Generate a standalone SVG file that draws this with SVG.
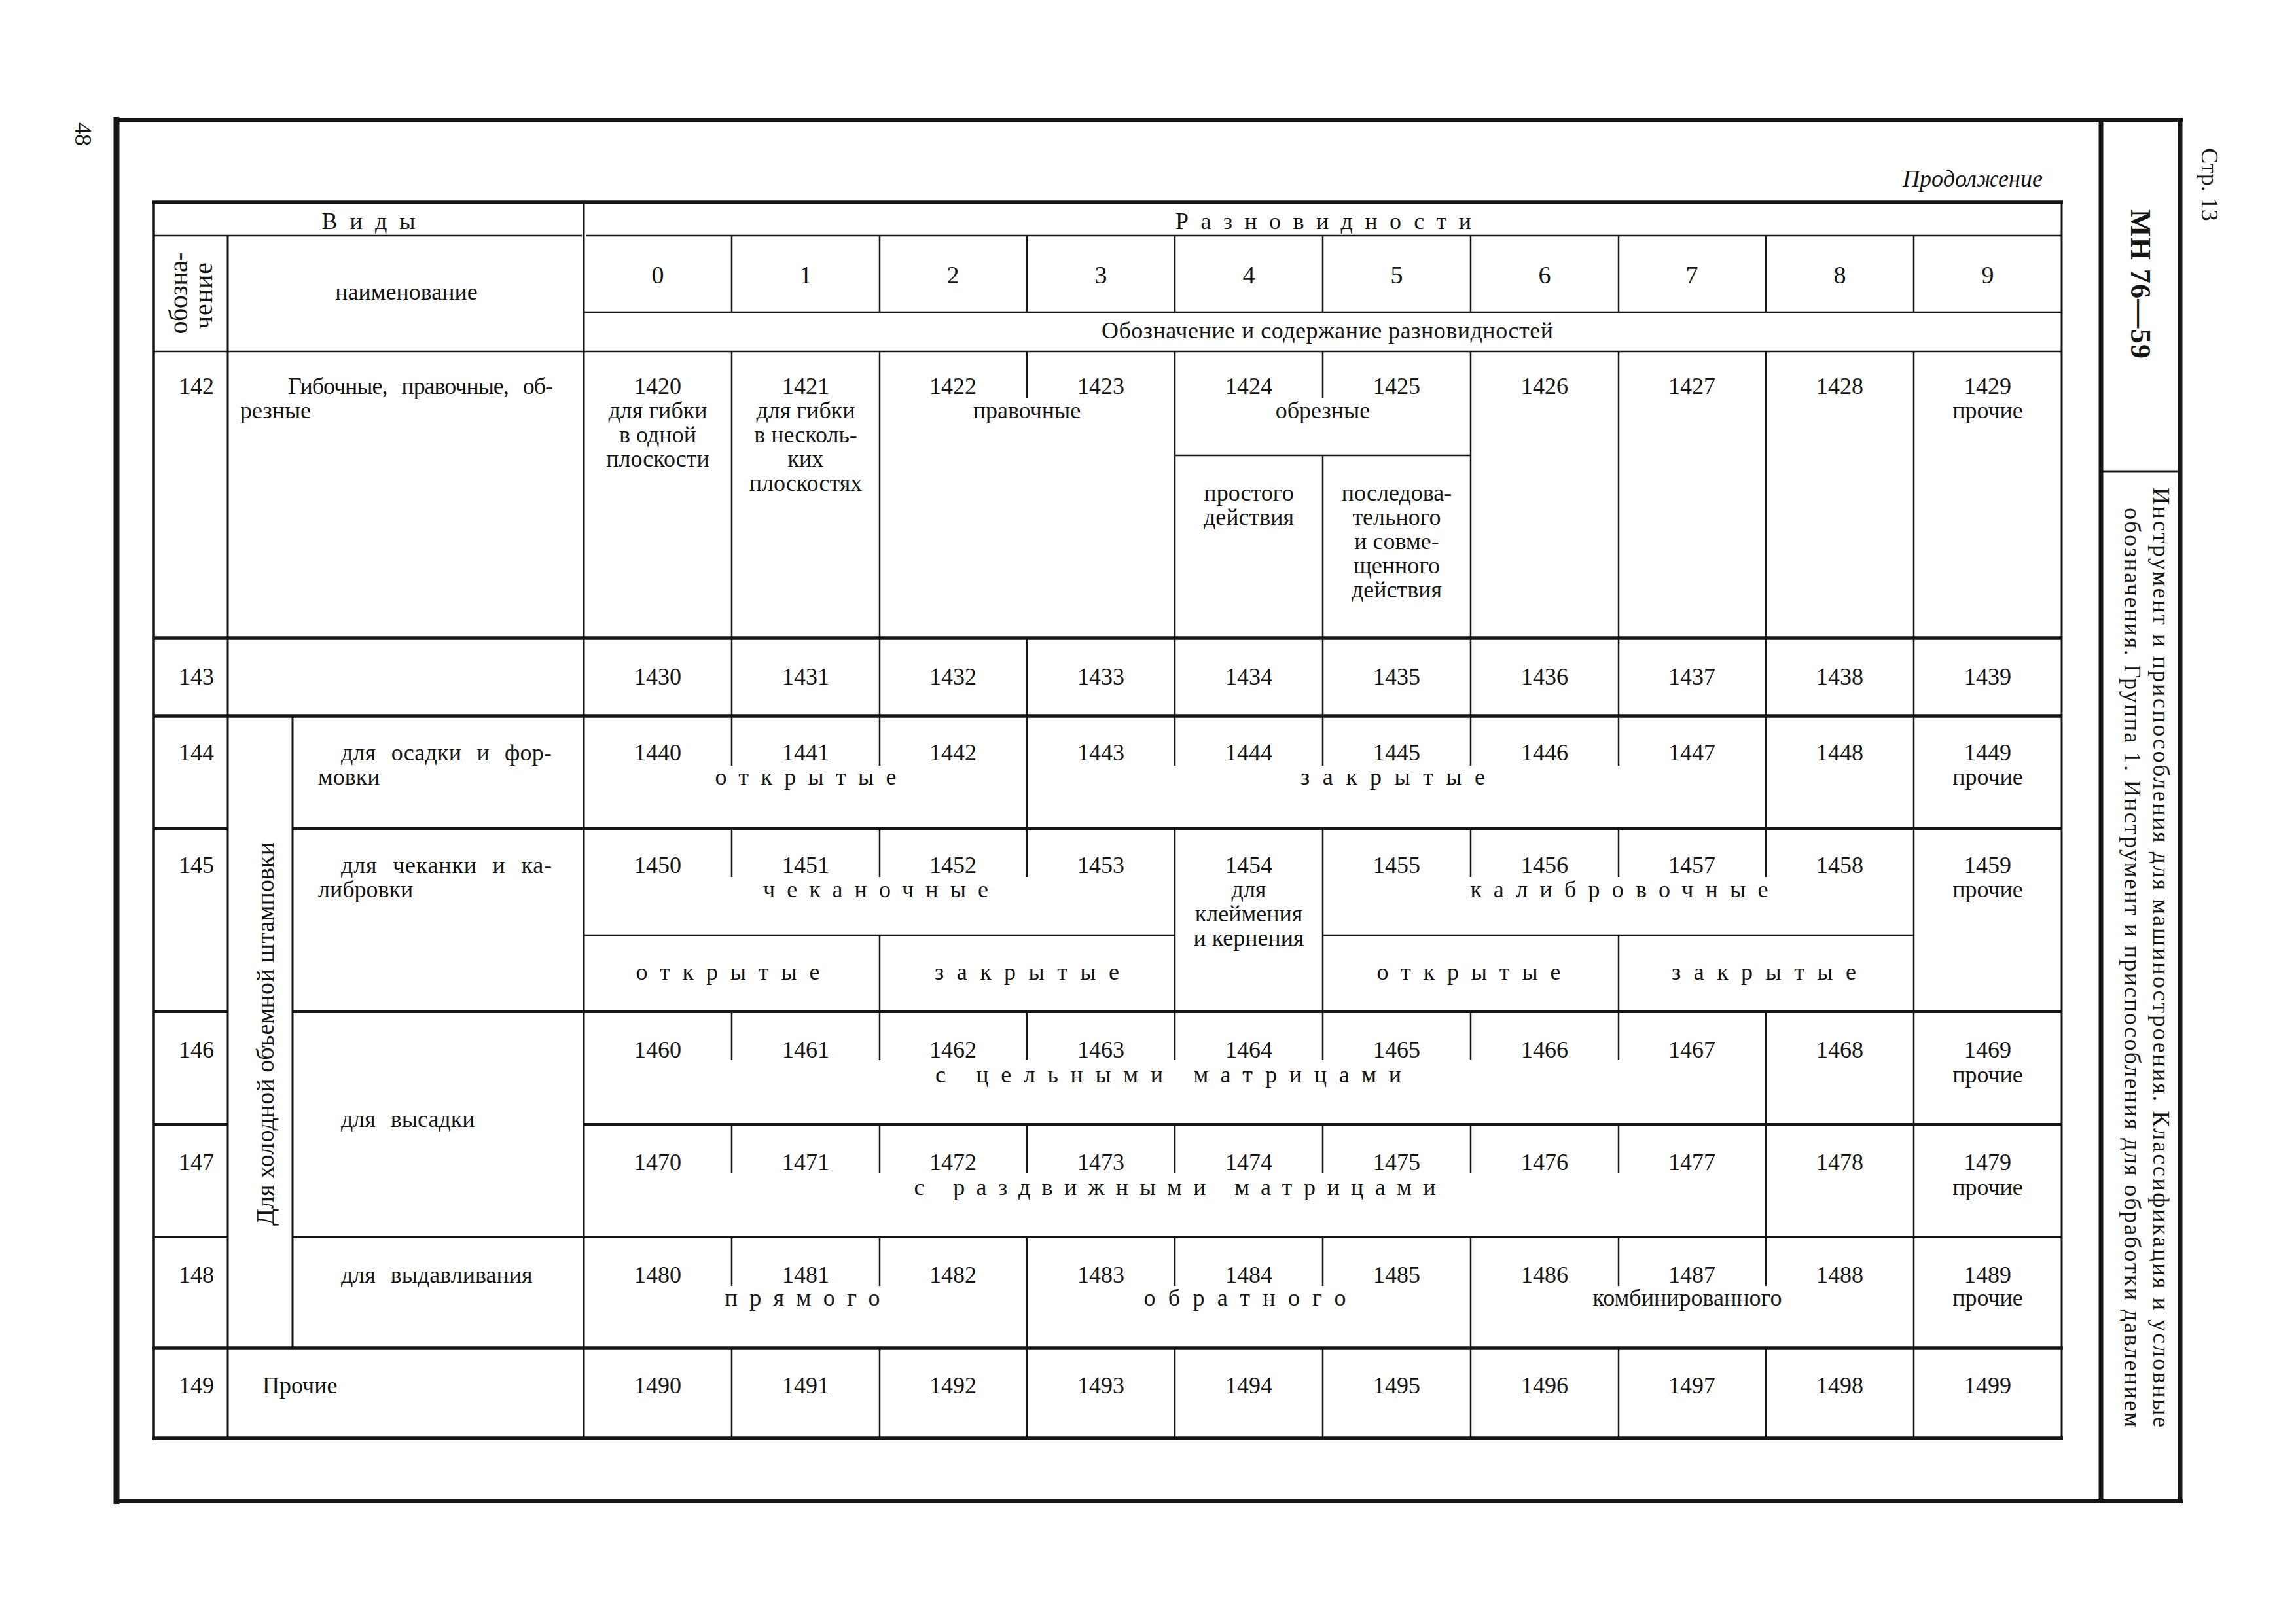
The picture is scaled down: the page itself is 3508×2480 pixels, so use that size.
<svg xmlns="http://www.w3.org/2000/svg" width="3508" height="2480" viewBox="0 0 3508 2480">
<style>
.t{font-family:"Liberation Serif","DejaVu Serif",serif;font-size:36px;fill:#151515}
.c{text-anchor:middle}
.h{font-size:38px}
.i{font-style:italic}
.w{word-spacing:14px}
.g line,.g path{stroke:#151515;fill:none}
.th{stroke-width:2.5}
.md{stroke-width:4}
.tk{stroke-width:5.5}
</style>
<rect width="3508" height="2480" fill="#ffffff"/>

<g id="frame" class="g">
<line x1="178" y1="179" x2="178" y2="2298" style="stroke-width:9"/>
<line x1="174" y1="183" x2="3335" y2="183" style="stroke-width:6"/>
<line x1="174" y1="2294" x2="3335" y2="2294" style="stroke-width:6"/>
<line x1="3210" y1="185" x2="3210" y2="2291" style="stroke-width:7"/>
<line x1="3331" y1="181" x2="3331" y2="2297" style="stroke-width:7"/>
<line x1="3210" y1="720" x2="3331" y2="720" style="stroke-width:3"/>
</g>

<g id="page-labels">
<text class="t c" transform="translate(115,205) rotate(90)">48</text>
<text class="t c" transform="translate(3364,282) rotate(90)">Стр. 13</text>
<text class="t c" transform="translate(3256,434) rotate(90)" style="font-size:44px;font-weight:bold" textLength="228">МН 76—59</text>
<text class="t" transform="translate(3290,745) rotate(90)" textLength="1436">Инструмент и приспособления для машиностроения. Классификация и условные</text>
<text class="t" transform="translate(3246,776) rotate(90)" textLength="1405">обозначения. Группа 1. Инструмент и приспособления для обработки давлением</text>
<text class="t i" x="3121" y="285" text-anchor="end" textLength="214">Продолжение</text>
</g>

<g id="grid" class="g">
<line class="tk" x1="233" y1="309" x2="3152" y2="309"/>
<line class="th" x1="235" y1="360" x2="889" y2="360"/>
<line class="th" x1="896" y1="360" x2="3150" y2="360"/>
<line class="th" x1="892" y1="477" x2="3150" y2="477"/>
<line class="th" x1="235" y1="537" x2="3150" y2="537"/>
<line class="tk" x1="235" y1="975" x2="3150" y2="975"/>
<line class="tk" x1="235" y1="1094" x2="3150" y2="1094"/>
<line class="md" x1="235" y1="1266" x2="348" y2="1266"/>
<line class="md" x1="447" y1="1266" x2="3150" y2="1266"/>
<line class="md" x1="235" y1="1546" x2="348" y2="1546"/>
<line class="md" x1="447" y1="1546" x2="3150" y2="1546"/>
<line class="md" x1="235" y1="1718" x2="348" y2="1718"/>
<line class="md" x1="892" y1="1718" x2="3150" y2="1718"/>
<line class="md" x1="235" y1="1890" x2="348" y2="1890"/>
<line class="md" x1="447" y1="1890" x2="3150" y2="1890"/>
<line class="tk" x1="233" y1="2060" x2="3152" y2="2060"/>
<line class="tk" x1="233" y1="2198" x2="3152" y2="2198"/>
<line class="th" x1="1795" y1="696" x2="2247" y2="696"/>
<line class="th" x1="892" y1="1429" x2="1795" y2="1429"/>
<line class="th" x1="2021" y1="1429" x2="2924" y2="1429"/>
<line style="stroke-width:3.5" x1="235" y1="309" x2="235" y2="2198"/>
<line style="stroke-width:3" x1="3150" y1="309" x2="3150" y2="2198"/>
<line style="stroke-width:3" x1="892" y1="309" x2="892" y2="2198"/>
<line style="stroke-width:3" x1="348" y1="360" x2="348" y2="2198"/>
<line style="stroke-width:3" x1="447" y1="1094" x2="447" y2="2060"/>
<path class="th" d="
M1118 360V477 M1344 360V477 M1569 360V477 M1795 360V477 M2021 360V477 M2247 360V477 M2473 360V477 M2698 360V477 M2924 360V477
M1118 537V975 M1344 537V975 M1569 537V608 M1795 537V975 M2021 537V608 M2021 696V975 M2247 537V975 M2473 537V975 M2698 537V975 M2924 537V975
M1118 975V1094 M1344 975V1094 M1569 975V1094 M1795 975V1094 M2021 975V1094 M2247 975V1094 M2473 975V1094 M2698 975V1094 M2924 975V1094
M1118 1094V1170 M1344 1094V1170 M1569 1094V1266 M1795 1094V1170 M2021 1094V1170 M2247 1094V1170 M2473 1094V1170 M2698 1094V1266 M2924 1094V1266
M1118 1266V1340 M1344 1266V1340 M1344 1429V1546 M1569 1266V1340 M1795 1266V1546 M2021 1266V1546 M2247 1266V1340 M2473 1266V1340 M2473 1429V1546 M2698 1266V1340 M2924 1266V1546
M1118 1546V1620 M1344 1546V1620 M1569 1546V1620 M1795 1546V1620 M2021 1546V1620 M2247 1546V1620 M2473 1546V1620 M2698 1546V1718 M2924 1546V1718
M1118 1718V1792 M1344 1718V1792 M1569 1718V1792 M1795 1718V1792 M2021 1718V1792 M2247 1718V1792 M2473 1718V1792 M2698 1718V1890 M2924 1718V1890
M1118 1890V1965 M1344 1890V1965 M1569 1890V2060 M1795 1890V1965 M2021 1890V1965 M2247 1890V2060 M2473 1890V1965 M2698 1890V1965 M2924 1890V2060
M1118 2060V2198 M1344 2060V2198 M1569 2060V2198 M1795 2060V2198 M2021 2060V2198 M2247 2060V2198 M2473 2060V2198 M2698 2060V2198 M2924 2060V2198"/>
</g>

<g id="header">
<text class="t c" x="563" y="350" textLength="143">Виды</text>
<text class="t c" x="2022" y="350" textLength="452">Разновидности</text>
<text class="t c" style="font-size:40px" transform="translate(286,448) rotate(-90)" textLength="125">обозна-</text>
<text class="t c" style="font-size:40px" transform="translate(324,452) rotate(-90)" textLength="102">чение</text>
<text class="t c" x="621" y="458">наименование</text>
<text class="t c h" x="1005" y="433">0</text>
<text class="t c h" x="1231" y="433">1</text>
<text class="t c h" x="1456" y="433">2</text>
<text class="t c h" x="1682" y="433">3</text>
<text class="t c h" x="1908" y="433">4</text>
<text class="t c h" x="2134" y="433">5</text>
<text class="t c h" x="2360" y="433">6</text>
<text class="t c h" x="2585" y="433">7</text>
<text class="t c h" x="2811" y="433">8</text>
<text class="t c h" x="3037" y="433">9</text>
<text class="t c" x="2028" y="517" textLength="690">Обозначение и содержание разновидностей</text>
</g>

<g id="row-142">
<text class="t c" x="300" y="602">142</text>
<text class="t w" x="440" y="602" textLength="405">Гибочные, правочные, об-</text>
<text class="t" x="367" y="639">резные</text>
<text class="t c" x="1005" y="602">1420</text>
<text class="t c" x="1005" y="639">для гибки</text>
<text class="t c" x="1005" y="676">в одной</text>
<text class="t c" x="1005" y="713">плоскости</text>
<text class="t c" x="1231" y="602">1421</text>
<text class="t c" x="1231" y="639">для гибки</text>
<text class="t c" x="1231" y="676">в несколь-</text>
<text class="t c" x="1231" y="713">ких</text>
<text class="t c" x="1231" y="750">плоскостях</text>
<text class="t c" x="1456" y="602">1422</text>
<text class="t c" x="1682" y="602">1423</text>
<text class="t c" x="1569" y="639">правочные</text>
<text class="t c" x="1908" y="602">1424</text>
<text class="t c" x="2134" y="602">1425</text>
<text class="t c" x="2021" y="639">обрезные</text>
<text class="t c" x="1908" y="765">простого</text>
<text class="t c" x="1908" y="802">действия</text>
<text class="t c" x="2134" y="765">последова-</text>
<text class="t c" x="2134" y="802">тельного</text>
<text class="t c" x="2134" y="839">и совме-</text>
<text class="t c" x="2134" y="876">щенного</text>
<text class="t c" x="2134" y="913">действия</text>
<text class="t c" x="2360" y="602">1426</text>
<text class="t c" x="2585" y="602">1427</text>
<text class="t c" x="2811" y="602">1428</text>
<text class="t c" x="3037" y="602">1429</text>
<text class="t c" x="3037" y="639">прочие</text>
</g>

<g id="row-143">
<text class="t c" x="300" y="1046">143</text>
<text class="t c" x="1005" y="1046">1430</text>
<text class="t c" x="1231" y="1046">1431</text>
<text class="t c" x="1456" y="1046">1432</text>
<text class="t c" x="1682" y="1046">1433</text>
<text class="t c" x="1908" y="1046">1434</text>
<text class="t c" x="2134" y="1046">1435</text>
<text class="t c" x="2360" y="1046">1436</text>
<text class="t c" x="2585" y="1046">1437</text>
<text class="t c" x="2811" y="1046">1438</text>
<text class="t c" x="3037" y="1046">1439</text>
</g>

<g id="group-cold">
<text class="t c" style="font-size:38px" transform="translate(418,1580) rotate(-90)" textLength="586">Для холодной объемной штамповки</text>
</g>

<g id="row-144">
<text class="t c" x="300" y="1162">144</text>
<text class="t w" x="521" y="1162" textLength="322">для осадки и фор-</text>
<text class="t" x="486" y="1199">мовки</text>
<text class="t c" x="1005" y="1162">1440</text>
<text class="t c" x="1231" y="1162">1441</text>
<text class="t c" x="1456" y="1162">1442</text>
<text class="t c" x="1682" y="1162">1443</text>
<text class="t c" x="1908" y="1162">1444</text>
<text class="t c" x="2134" y="1162">1445</text>
<text class="t c" x="2360" y="1162">1446</text>
<text class="t c" x="2585" y="1162">1447</text>
<text class="t c" x="2811" y="1162">1448</text>
<text class="t c" x="3037" y="1162">1449</text>
<text class="t c" x="3037" y="1199">прочие</text>
<text class="t c" x="1231" y="1199" textLength="277">открытые</text>
<text class="t c" x="2128" y="1199" textLength="282">закрытые</text>
</g>

<g id="row-145">
<text class="t c" x="300" y="1334">145</text>
<text class="t w" x="521" y="1334" textLength="322">для чеканки и ка-</text>
<text class="t" x="486" y="1371">либровки</text>
<text class="t c" x="1005" y="1334">1450</text>
<text class="t c" x="1231" y="1334">1451</text>
<text class="t c" x="1456" y="1334">1452</text>
<text class="t c" x="1682" y="1334">1453</text>
<text class="t c" x="1338" y="1371" textLength="344">чеканочные</text>
<text class="t c" x="1908" y="1334">1454</text>
<text class="t c" x="1908" y="1371">для</text>
<text class="t c" x="1908" y="1408">клеймения</text>
<text class="t c" x="1908" y="1445">и кернения</text>
<text class="t c" x="2134" y="1334">1455</text>
<text class="t c" x="2360" y="1334">1456</text>
<text class="t c" x="2585" y="1334">1457</text>
<text class="t c" x="2811" y="1334">1458</text>
<text class="t c" x="2474" y="1371" textLength="455">калибровочные</text>
<text class="t c" x="3037" y="1334">1459</text>
<text class="t c" x="3037" y="1371">прочие</text>
<text class="t c" x="1112" y="1497" textLength="281">открытые</text>
<text class="t c" x="1569" y="1497" textLength="282">закрытые</text>
<text class="t c" x="2244" y="1497" textLength="281">открытые</text>
<text class="t c" x="2695" y="1497" textLength="282">закрытые</text>
</g>

<g id="row-146-147">
<text class="t w" x="521" y="1722">для высадки</text>
</g>

<g id="row-146">
<text class="t c" x="300" y="1616">146</text>
<text class="t c" x="1005" y="1616">1460</text>
<text class="t c" x="1231" y="1616">1461</text>
<text class="t c" x="1456" y="1616">1462</text>
<text class="t c" x="1682" y="1616">1463</text>
<text class="t c" x="1908" y="1616">1464</text>
<text class="t c" x="2134" y="1616">1465</text>
<text class="t c" x="2360" y="1616">1466</text>
<text class="t c" x="2585" y="1616">1467</text>
<text class="t c" x="2811" y="1616">1468</text>
<text class="t c" x="3037" y="1616">1469</text>
<text class="t c" x="3037" y="1654">прочие</text>
<text class="t c" x="1785" y="1654" textLength="712">с цельными матрицами</text>
</g>

<g id="row-147">
<text class="t c" x="300" y="1788">147</text>
<text class="t c" x="1005" y="1788">1470</text>
<text class="t c" x="1231" y="1788">1471</text>
<text class="t c" x="1456" y="1788">1472</text>
<text class="t c" x="1682" y="1788">1473</text>
<text class="t c" x="1908" y="1788">1474</text>
<text class="t c" x="2134" y="1788">1475</text>
<text class="t c" x="2360" y="1788">1476</text>
<text class="t c" x="2585" y="1788">1477</text>
<text class="t c" x="2811" y="1788">1478</text>
<text class="t c" x="3037" y="1788">1479</text>
<text class="t c" x="3037" y="1826">прочие</text>
<text class="t c" x="1795" y="1826" textLength="797">с раздвижными матрицами</text>
</g>

<g id="row-148">
<text class="t c" x="300" y="1960">148</text>
<text class="t w" x="521" y="1960">для выдавливания</text>
<text class="t c" x="1005" y="1960">1480</text>
<text class="t c" x="1231" y="1960">1481</text>
<text class="t c" x="1456" y="1960">1482</text>
<text class="t c" x="1682" y="1960">1483</text>
<text class="t c" x="1908" y="1960">1484</text>
<text class="t c" x="2134" y="1960">1485</text>
<text class="t c" x="2360" y="1960">1486</text>
<text class="t c" x="2585" y="1960">1487</text>
<text class="t c" x="2811" y="1960">1488</text>
<text class="t c" x="3037" y="1960">1489</text>
<text class="t c" x="3037" y="1995">прочие</text>
<text class="t c" x="1226" y="1995" textLength="237">прямого</text>
<text class="t c" x="1902" y="1995" textLength="309">обратного</text>
<text class="t c" x="2578" y="1995">комбинированного</text>
</g>

<g id="row-149">
<text class="t c" x="300" y="2129">149</text>
<text class="t" x="401" y="2129">Прочие</text>
<text class="t c" x="1005" y="2129">1490</text>
<text class="t c" x="1231" y="2129">1491</text>
<text class="t c" x="1456" y="2129">1492</text>
<text class="t c" x="1682" y="2129">1493</text>
<text class="t c" x="1908" y="2129">1494</text>
<text class="t c" x="2134" y="2129">1495</text>
<text class="t c" x="2360" y="2129">1496</text>
<text class="t c" x="2585" y="2129">1497</text>
<text class="t c" x="2811" y="2129">1498</text>
<text class="t c" x="3037" y="2129">1499</text>
</g>
</svg>
